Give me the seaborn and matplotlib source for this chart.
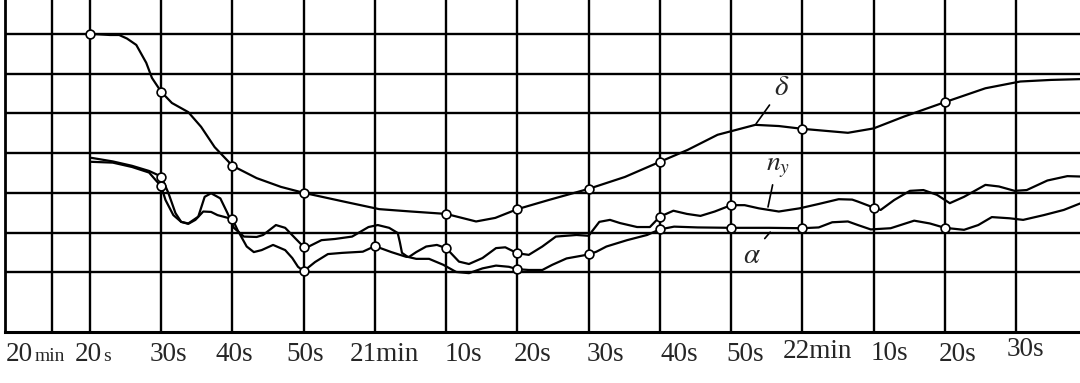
import numpy as np
import matplotlib
matplotlib.use("Agg")
import matplotlib.pyplot as plt
import seaborn as sns

# x: seconds after 20 min ; y: chart grid units (no numeric axis in original)
delta_t = [20, 22.8, 24.1, 25.2, 26.5, 27.9, 28.7, 30, 31.5, 33.8, 35.6, 37.5, 40, 43.4, 46.8, 50,
           55.9, 60.6, 65.1, 70, 74.2, 76.9, 80, 84.4, 90, 95.1, 100, 103.9, 108.1, 113.4, 116.7,
           120, 126.4, 130, 134.3, 140, 145.7, 150.6, 154.9, 159.1]
delta_v = [7.50, 7.47, 7.47, 7.38, 7.22, 6.77, 6.39, 6.04, 5.76, 5.53, 5.16, 4.65, 4.18, 3.87, 3.65, 3.50,
           3.27, 3.09, 3.03, 2.97, 2.78, 2.87, 3.09, 3.32, 3.60, 3.90, 4.28, 4.58, 4.96, 5.21, 5.18,
           5.11, 5.01, 5.12, 5.42, 5.78, 6.13, 6.30, 6.34, 6.36]
delta_marks = [20, 30, 40, 50, 70, 80, 90, 100, 120, 140]

alpha_t = [20.2, 23.2, 25.9, 28.3, 30, 31.0, 32.0, 32.8, 33.8, 35.2, 36.1, 37.0, 38.3, 39.3, 40.2, 41.6,
           43.4, 44.3, 46.1, 47.4, 48.8, 50, 50.6, 52.5, 54.4, 56.8, 59.1, 60.4, 62.0, 63.2, 63.5, 63.8,
           64.6, 65.8, 67.6, 69.6, 71.4, 73.2, 75.1, 77.0, 78.8, 80, 81.6, 83.5, 84.9, 86.9, 90, 91.1,
           92.5, 95.4, 98.2, 100, 102.0, 105.3, 110, 115.3, 120, 122.3, 124.2, 126.4, 127.8, 129.6,
           132.4, 135.7, 137.9, 140, 142.7, 144.7, 146.6, 149.1, 151.0, 153.9, 156.7, 159.1]
alpha_v = [4.38, 4.29, 4.18, 4.05, 3.91, 3.50, 2.99, 2.77, 2.73, 2.90, 3.40, 3.49, 3.36, 2.99, 2.62, 2.40,
           2.39, 2.44, 2.69, 2.62, 2.36, 2.14, 2.14, 2.31, 2.34, 2.40, 2.64, 2.69, 2.62, 2.49, 2.26, 1.99,
           1.89, 1.84, 1.84, 1.69, 1.51, 1.48, 1.60, 1.67, 1.64, 1.58, 1.56, 1.56, 1.69, 1.85, 1.95, 2.02,
           2.15, 2.31, 2.44, 2.58, 2.65, 2.63, 2.62, 2.62, 2.61, 2.63, 2.76, 2.78, 2.69, 2.58,
           2.61, 2.80, 2.73, 2.62, 2.57, 2.69, 2.89, 2.86, 2.82, 2.94, 3.07, 3.24]
alpha_marks = [30, 50, 80, 90, 100, 110, 120, 140]

ny_t = [20.2, 23.2, 25.9, 28.3, 30, 30.6, 31.7, 32.8, 33.8, 34.8, 35.9, 37.0, 37.9, 40, 40.7, 42.0,
        43.0, 44.1, 45.7, 47.4, 48.4, 49.2, 50, 51.6, 53.4, 55.4, 58.3, 60, 62.3, 64.4, 64.8, 65.8,
        67.2, 68.7, 70, 71.8, 73.2, 75.1, 77.0, 78.3, 80, 81.6, 83.5, 85.4, 88.3, 90, 91.5, 93.0,
        94.4, 96.8, 98.6, 100, 101.9, 103.8, 105.7, 107.7, 110, 111.9, 113.9, 116.7, 119.6, 122.3,
        125.1, 127.0, 127.8, 130, 131.0, 132.9, 135.1, 137.0, 138.9, 140.7, 142.7, 145.7, 147.6,
        149.8, 151.5, 154.4, 157.2, 159.1]
ny_v = [4.28, 4.26, 4.15, 4.01, 3.66, 3.32, 2.94, 2.77, 2.72, 2.82, 3.03, 3.02, 2.94, 2.84, 2.57, 2.15,
        2.01, 2.06, 2.19, 2.06, 1.86, 1.64, 1.53, 1.76, 1.96, 1.99, 2.02, 2.16, 2.01, 1.89, 1.89, 2.01,
        2.15, 2.19, 2.11, 1.77, 1.71, 1.86, 2.11, 2.13, 1.98, 1.94, 2.15, 2.40, 2.44, 2.42, 2.77, 2.82,
        2.74, 2.64, 2.64, 2.90, 3.05, 2.97, 2.92, 3.03, 3.19, 3.19, 3.11, 3.03, 3.11, 3.22,
        3.34, 3.33, 3.28, 3.13, 3.07, 3.32, 3.55, 3.57, 3.45, 3.24, 3.40, 3.70, 3.66,
        3.55, 3.57, 3.81, 3.92, 3.91]
ny_marks = [30, 40, 50, 60, 70, 80, 100, 110, 130]

tick_t = [14.67, 20, 30, 40, 50, 60, 70, 80, 90, 100, 110, 120, 130, 140, 150]
tick_labels = ["20min", "20s", "30s", "40s", "50s", "21min", "10s", "20s", "30s", "40s", "50s",
               "22min", "10s", "20s", "30s"]
h_lines = [1.5, 2.5, 3.5, 4.5, 5.5, 6.5, 7.5]

sns.set_theme(style="white")
plt.rcParams["font.family"] = ["Liberation Serif", "DejaVu Serif"]
plt.rcParams["mathtext.fontset"] = "stix"

fig = plt.figure(figsize=(10.8, 3.83), dpi=100)
fig.patch.set_facecolor("white")
ax = fig.add_axes([5 / 1080, 51 / 383, 1 - 5 / 1080, 332 / 383])
ax.set_facecolor("white")
ax.set_xlim(8.07, 158.98)
ax.set_ylim(0, 8.35)

ax.set_xticks(tick_t)
ax.set_yticks(h_lines)
ax.set_xticklabels([])
ax.set_yticklabels([])
ax.tick_params(length=0)
ax.grid(True, color="black", lw=1.7)
ax.set_axisbelow(True)
for s in ["top", "right"]:
    ax.spines[s].set_visible(False)
ax.spines["left"].set_color("black")
ax.spines["left"].set_linewidth(2.0)
ax.spines["bottom"].set_color("black")
ax.spines["bottom"].set_linewidth(2.2)

series = [(delta_t, delta_v, delta_marks), (alpha_t, alpha_v, alpha_marks), (ny_t, ny_v, ny_marks)]
for t, v, marks in series:
    sns.lineplot(x=t, y=v, ax=ax, color="black", lw=1.6, estimator=None, sort=False, zorder=4)
    lookup = dict(zip(t, v))
    sns.scatterplot(x=marks, y=[lookup[m] for m in marks], ax=ax, s=40, color="white",
                    edgecolor="black", linewidth=1.2, zorder=6)

# tick labels (drawn as text below the axis)
label_dx = [0, 0, 7, 2, 2, 9, 17, 15, 17, 19, 14, 15, 16, 13, 9]
label_dy = [-29, -29, -29, -29, -29, -29, -29, -29, -29, -29, -29, -26, -28, -29, -24]
fs = 19.5
for i, (tt, lab) in enumerate(zip(tick_t, tick_labels)):
    if i == 0:
        ax.annotate("20", xy=(tt, 0), xycoords=("data", "axes fraction"), xytext=(-19, label_dy[i]),
                    textcoords="offset pixels", ha="right", va="baseline", fontsize=fs)
        ax.annotate("min", xy=(tt, 0), xycoords=("data", "axes fraction"), xytext=(-17, label_dy[i]),
                    textcoords="offset pixels", ha="left", va="baseline", fontsize=14)
    elif i == 1:
        ax.annotate("20", xy=(tt, 0), xycoords=("data", "axes fraction"), xytext=(12, label_dy[i]),
                    textcoords="offset pixels", ha="right", va="baseline", fontsize=fs)
        ax.annotate("s", xy=(tt, 0), xycoords=("data", "axes fraction"), xytext=(13, label_dy[i]),
                    textcoords="offset pixels", ha="left", va="baseline", fontsize=14)
    else:
        ax.annotate(lab, xy=(tt, 0), xycoords=("data", "axes fraction"),
                    xytext=(label_dx[i], label_dy[i]), textcoords="offset pixels",
                    ha="center", va="baseline", fontsize=fs)

# curve labels with leader lines
d_x = 113.4
ax.annotate(r"$\delta$", xy=(d_x, np.interp(d_x, delta_t, delta_v)), xytext=(26, 37),
            textcoords="offset pixels", ha="center", va="center", fontsize=21,
            arrowprops=dict(arrowstyle="-", color="black", lw=1.2, shrinkA=1, shrinkB=1,
                            relpos=(0.05, 0.1)))
n_x = 115.1
ax.annotate(r"$n_y$", xy=(n_x, np.interp(n_x, ny_t, ny_v)), xytext=(11, 42),
            textcoords="offset pixels", ha="center", va="center", fontsize=20,
            arrowprops=dict(arrowstyle="-", color="black", lw=1.2, shrinkA=1, shrinkB=2,
                            relpos=(0.3, 0.0)))
a_x = 116.0
ax.annotate(r"$\alpha$", xy=(a_x, np.interp(a_x, alpha_t, alpha_v)), xytext=(-22, -28),
            textcoords="offset pixels", ha="center", va="center", fontsize=21,
            arrowprops=dict(arrowstyle="-", color="black", lw=1.2, shrinkA=1, shrinkB=4,
                            relpos=(0.95, 0.95)))

fig.savefig("out.png", dpi=100, facecolor="white")
